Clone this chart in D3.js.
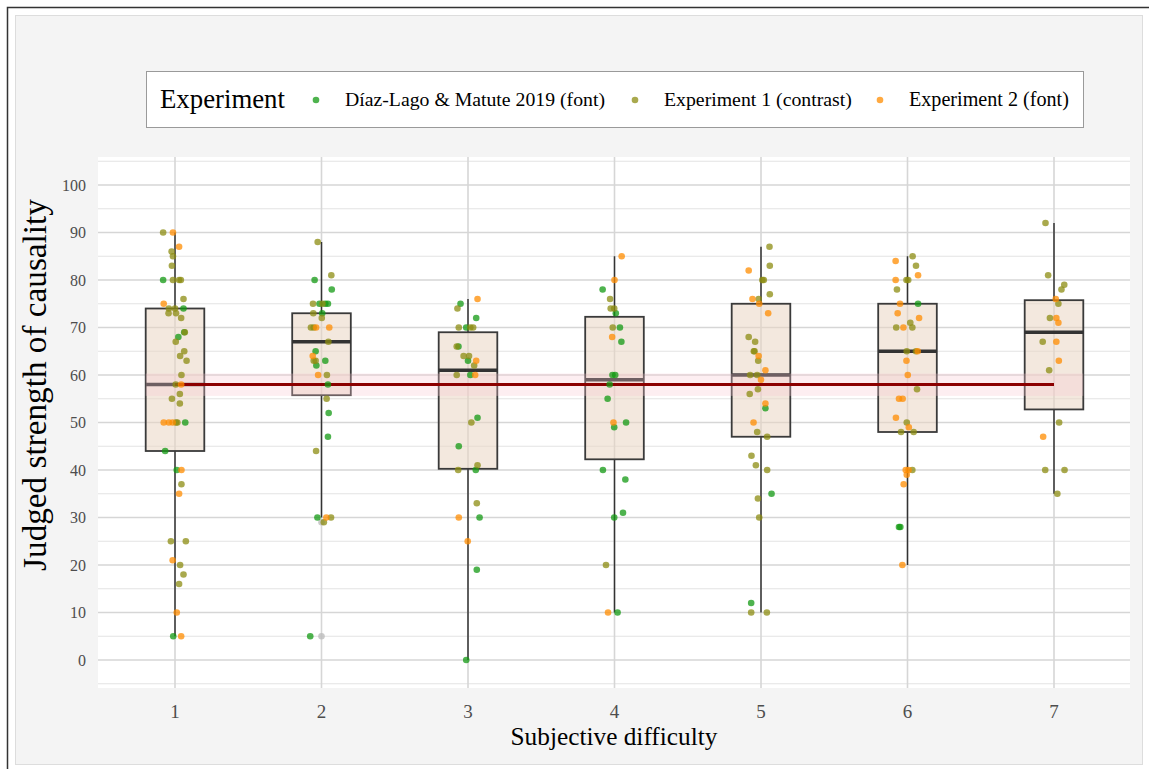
<!DOCTYPE html>
<html>
<head>
<meta charset="utf-8">
<script src="https://cdn.jsdelivr.net/npm/d3@7"></script>
<style>
  body { margin: 0; background: #fff; }
  text { font-family: "Liberation Serif", "DejaVu Serif", serif; }
</style>
</head>
<body>
<svg id="chart" width="1149" height="769"></svg>
<script>
// categories + box stats
const difficulty = [1, 2, 3, 4, 5, 6, 7];
const boxLow    = [5, 30, 0, 10, 10, 20, 35];
const boxQ1     = [44, 55.75, 40.25, 42.25, 47, 48, 52.75];
const boxMedian = [58, 67, 61, 59, 60, 65, 69];
const boxQ3     = [74, 73, 69, 72.25, 75, 75, 75.75];
const boxHigh   = [90, 88, 76, 85, 87, 85, 92];
const outliers  = [[2, 29], [2, 5]];

const grandMean = 58;
const meanBand = [55.6, 60.3];

const yTicks = [0, 10, 20, 30, 40, 50, 60, 70, 80, 90, 100];
const yMinor = [-5, 5, 15, 25, 35, 45, 55, 65, 75, 85, 95, 105];

const seriesNames = ["Díaz-Lago & Matute 2019 (font)", "Experiment 1 (contrast)", "Experiment 2 (font)"];

// [jittered difficulty, judgement]
const diazPoints = [
  [0.919, 80], [1.058, 74], [1.063, 69], [1.023, 68], [1.070, 50], [0.933, 44], [1.012, 40], [0.988, 5],
  [1.953, 80], [2.070, 78], [1.986, 75], [2.026, 75], [2.044, 75], [2.005, 73], [1.960, 65], [2.026, 63],
  [1.965, 62], [2.044, 58], [2.049, 52], [2.044, 47], [1.972, 30], [1.923, 5],
  [2.949, 75], [3.056, 72], [2.988, 70], [2.935, 66], [3.000, 63], [3.016, 60], [3.065, 51], [2.937, 45],
  [3.053, 40], [3.079, 30], [3.060, 19], [2.988, 0],
  [3.919, 78], [4.009, 73], [4.037, 70], [4.047, 67], [3.986, 60], [4.005, 60], [3.967, 58], [3.953, 55],
  [3.998, 49], [4.079, 50], [3.921, 40], [4.074, 38], [4.058, 31], [3.998, 30], [4.021, 10],
  [5.030, 53], [5.072, 35], [4.933, 12],
  [6.072, 75], [5.942, 28], [5.951, 28]
];

const exp1Points = [
  [0.919, 90], [0.977, 86], [0.986, 85], [0.979, 83], [0.986, 80], [1.028, 80], [1.040, 80], [1.058, 76],
  [0.958, 74], [1.000, 74], [0.956, 73], [1.007, 73], [1.042, 72], [1.067, 69], [1.005, 67], [1.063, 65],
  [1.035, 64], [1.079, 63], [1.044, 60], [1.005, 58], [1.033, 56], [0.979, 55], [1.033, 54], [1.007, 50],
  [1.016, 50], [1.044, 37], [0.972, 25], [1.074, 25], [1.035, 20], [1.058, 18], [1.028, 16],
  [1.974, 88], [2.067, 81], [1.942, 75], [2.007, 75], [1.944, 73], [2.002, 72], [1.928, 70], [1.947, 70],
  [2.047, 67], [1.947, 63], [1.960, 63], [2.037, 60], [2.035, 55], [1.963, 44], [2.065, 30], [2.016, 29],
  [2.928, 74], [2.937, 70], [3.016, 70], [3.035, 70], [2.923, 66], [2.970, 64], [3.007, 64], [3.042, 62],
  [2.923, 60], [3.023, 50], [3.065, 41], [2.933, 40], [3.060, 33],
  [3.970, 76], [3.974, 74], [3.998, 74], [3.988, 70], [3.942, 20],
  [5.058, 87], [5.060, 83], [5.009, 80], [5.019, 80], [5.060, 77], [4.984, 76], [4.916, 68], [4.960, 67],
  [4.951, 65], [4.956, 65], [4.981, 63], [4.926, 60], [4.974, 60], [4.979, 57], [4.923, 56], [4.974, 48],
  [5.042, 47], [4.935, 43], [4.965, 41], [5.042, 40], [4.979, 34], [4.988, 30], [4.933, 10], [5.040, 10],
  [6.035, 85], [6.058, 83], [5.993, 80], [6.005, 80], [5.928, 78], [6.019, 71], [5.923, 70], [6.033, 70],
  [5.995, 65], [6.058, 65], [6.065, 57], [5.995, 50], [5.956, 48], [6.042, 48], [6.033, 40],
  [6.942, 92], [6.960, 81], [7.070, 79], [7.051, 78], [7.030, 75], [6.972, 72], [6.923, 67], [6.967, 61],
  [7.035, 50], [6.940, 40], [7.072, 40], [7.023, 35]
];

const exp2Points = [
  [0.986, 90], [1.028, 87], [0.923, 75], [1.042, 58], [0.923, 50], [0.958, 50], [0.984, 50], [1.044, 40],
  [1.028, 35], [0.984, 21], [1.012, 10], [1.042, 5],
  [1.963, 70], [2.053, 70], [1.940, 64], [1.977, 60], [2.033, 30],
  [3.065, 76], [3.056, 63], [3.049, 60], [2.937, 30], [2.998, 25],
  [4.049, 85], [4.000, 80], [3.984, 68], [3.993, 50], [3.956, 10],
  [4.916, 82], [4.942, 76], [4.988, 75], [5.049, 73], [4.984, 64], [5.030, 61], [5.000, 59], [5.030, 54],
  [4.949, 50],
  [5.919, 84], [6.072, 81], [5.919, 80], [5.949, 75], [5.933, 73], [6.079, 72], [5.972, 70], [6.070, 65],
  [5.993, 63], [6.002, 60], [5.942, 55], [5.967, 55], [5.921, 51], [6.009, 49], [5.988, 40], [6.007, 40],
  [5.995, 39], [5.974, 37], [5.965, 20],
  [7.012, 76], [7.016, 72], [7.030, 71], [7.016, 67], [7.033, 63], [6.926, 47]
];

const colors = ["#139a13", "#8c8c12", "#ff8c00"];

const svg = d3.select("#chart");

// outer frame + grey background
svg.append("path").attr("d", "M7.5,769V7.5H1149").attr("fill", "none").attr("stroke", "#333").attr("stroke-width", 1.5);
svg.append("rect").attr("x", 15.5).attr("y", 15.5).attr("width", 1127).attr("height", 749)
  .attr("fill", "#f4f4f4").attr("stroke", "#dddddd");

const panel = {left: 98, right: 1130, top: 157, bottom: 688};

const x = d3.scaleLinear().domain([1, 7]).range([175, 1054]);
const y = d3.scaleLinear().domain([0, 100]).range([660, 185]);

svg.append("rect").attr("x", panel.left).attr("y", panel.top)
  .attr("width", panel.right - panel.left).attr("height", panel.bottom - panel.top).attr("fill", "#fff");

const grid = svg.append("g");
grid.selectAll("line.minor").data(yMinor).enter().append("line")
  .attr("x1", panel.left).attr("x2", panel.right)
  .attr("y1", d => y(d)).attr("y2", d => y(d))
  .attr("stroke", "#e3e3e3").attr("stroke-width", 1);
grid.selectAll("line.major").data(yTicks).enter().append("line")
  .attr("x1", panel.left).attr("x2", panel.right)
  .attr("y1", d => y(d)).attr("y2", d => y(d))
  .attr("stroke", "#d6d6d6").attr("stroke-width", 1.6);
grid.selectAll("line.vert").data(difficulty).enter().append("line")
  .attr("x1", d => x(d)).attr("x2", d => x(d))
  .attr("y1", panel.top).attr("y2", panel.bottom)
  .attr("stroke", "#d6d6d6").attr("stroke-width", 1.6);

// boxplots
const half = x(1.2) - x(1);
const boxes = svg.append("g");
difficulty.forEach((d, i) => {
  boxes.append("line").attr("x1", x(d)).attr("x2", x(d))
    .attr("y1", y(boxHigh[i])).attr("y2", y(boxQ3[i])).attr("stroke", "#333").attr("stroke-width", 1.5);
  boxes.append("line").attr("x1", x(d)).attr("x2", x(d))
    .attr("y1", y(boxQ1[i])).attr("y2", y(boxLow[i])).attr("stroke", "#333").attr("stroke-width", 1.5);
  boxes.append("rect").attr("x", x(d) - half).attr("width", 2 * half)
    .attr("y", y(boxQ3[i])).attr("height", y(boxQ1[i]) - y(boxQ3[i]))
    .attr("fill", "#ead6c2").attr("fill-opacity", 0.55)
    .attr("stroke", "#3a3a3a").attr("stroke-width", 1.8);
  boxes.append("line").attr("x1", x(d) - half).attr("x2", x(d) + half)
    .attr("y1", y(boxMedian[i])).attr("y2", y(boxMedian[i]))
    .attr("stroke", "#333").attr("stroke-width", 3.5);
});

boxes.selectAll("circle.out").data(outliers).enter().append("circle")
  .attr("cx", d => x(d[0])).attr("cy", d => y(d[1])).attr("r", 3.3)
  .attr("fill", "#bdbdbd").attr("fill-opacity", 0.8);

// grand mean band + line
svg.append("rect").attr("x", x(0.8)).attr("width", x(7.2) - x(0.8))
  .attr("y", y(meanBand[1])).attr("height", y(meanBand[0]) - y(meanBand[1]))
  .attr("fill", "#f7c6d0").attr("fill-opacity", 0.3);
svg.append("line").attr("x1", x(1)).attr("x2", x(7))
  .attr("y1", y(grandMean)).attr("y2", y(grandMean))
  .attr("stroke", "#8b0000").attr("stroke-width", 3);

// jittered points
[diazPoints, exp1Points, exp2Points].forEach((pts, k) => {
  svg.append("g").selectAll("circle").data(pts).enter().append("circle")
    .attr("cx", d => x(d[0])).attr("cy", d => y(d[1])).attr("r", 3.3)
    .attr("fill", colors[k]).attr("fill-opacity", 0.75);
});

// axes labels
svg.append("g").selectAll("text").data(yTicks).enter().append("text")
  .attr("x", 86).attr("y", d => y(d)).attr("dy", "0.35em").attr("text-anchor", "end")
  .attr("fill", "#4d4d4d").style("font-size", "16px").text(d => d);

svg.append("g").selectAll("text").data(difficulty).enter().append("text")
  .attr("x", d => x(d)).attr("y", 718).attr("text-anchor", "middle")
  .attr("fill", "#4d4d4d").style("font-size", "19px").text(d => d);

// set font size so text spans the given width
function fit(t, w) {
  const len = t.node().getComputedTextLength();
  const fs = parseFloat(t.style("font-size"));
  t.style("font-size", (fs * w / len) + "px");
  return t;
}

fit(svg.append("text").attr("x", 614).attr("y", 745).attr("text-anchor", "middle")
  .style("font-size", "24px").attr("fill", "#000").text("Subjective difficulty"), 207);

fit(svg.append("text").attr("transform", "translate(46,385) rotate(-90)").attr("text-anchor", "middle")
  .style("font-size", "24px").attr("fill", "#000").text("Judged strength of causality"), 372);

// legend
svg.append("rect").attr("x", 146.5).attr("y", 71.5).attr("width", 937).attr("height", 56)
  .attr("fill", "#fff").attr("stroke", "#9a9a9a");
fit(svg.append("text").attr("x", 160).attr("y", 108).style("font-size", "24px")
  .text("Experiment"), 125);

const legX = [316, 635, 880];
const legW = [260, 188, 160];
seriesNames.forEach((name, k) => {
  svg.append("circle").attr("cx", legX[k]).attr("cy", 100).attr("r", 3.3)
    .attr("fill", colors[k]).attr("fill-opacity", 0.75);
  fit(svg.append("text").attr("x", legX[k] + 29).attr("y", 106).style("font-size", "18px")
    .text(name), legW[k]);
});
</script>
</body>
</html>
